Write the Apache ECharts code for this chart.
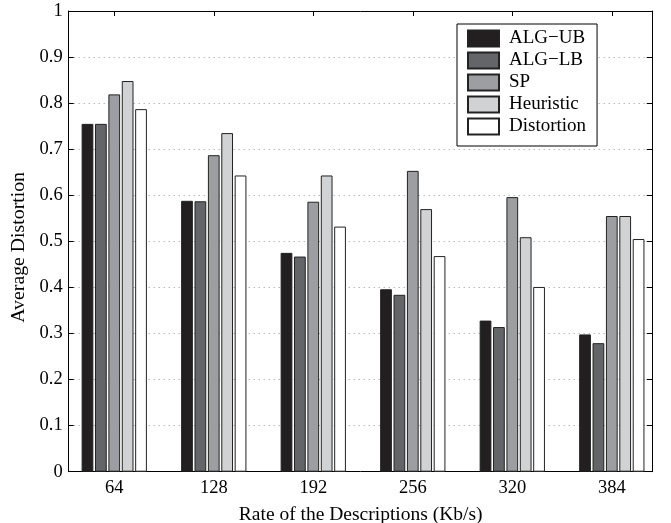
<!DOCTYPE html>
<html>
<head>
<meta charset="utf-8">
<script src="https://cdn.jsdelivr.net/npm/echarts@6/dist/echarts.min.js"></script>
<style>
html,body{margin:0;padding:0;background:#fff;}
#chart{width:671px;height:523px;}
</style>
</head>
<body>
<div id="chart"></div>
<script>
var rates = [64, 128, 192, 256, 320, 384];
var seriesNames = ['ALG\u2212UB', 'ALG\u2212LB', 'SP', 'Heuristic', 'Distortion'];
var algUB = [0.755, 0.588, 0.475, 0.396, 0.328, 0.298];
var algLB = [0.755, 0.587, 0.467, 0.384, 0.314, 0.279];
var sp = [0.819, 0.687, 0.586, 0.653, 0.596, 0.555];
var heuristic = [0.848, 0.735, 0.643, 0.570, 0.509, 0.555];
var distortion = [0.787, 0.643, 0.532, 0.468, 0.401, 0.505];
var yTicks = [0, 0.1, 0.2, 0.3, 0.4, 0.5, 0.6, 0.7, 0.8, 0.9, 1];

var values = [algUB, algLB, sp, heuristic, distortion];
var colors = ['#231f20', '#646569', '#9d9ea2', '#d1d2d4', '#ffffff'];
var font = 'Liberation Serif';

var chart = echarts.init(document.getElementById('chart'));

var series = values.map(function (vals, i) {
  return {
    name: seriesNames[i],
    type: 'bar',
    xAxisIndex: 0,
    yAxisIndex: 0,
    barWidth: '11.8%',
    barGap: '14%',
    itemStyle: { color: colors[i], borderColor: '#222', borderWidth: 1 },
    emphasis: { disabled: true },
    data: rates.map(function (r, j) { return [r, vals[j]]; })
  };
});

chart.setOption({
  animation: false,
  backgroundColor: '#fff',
  textStyle: { fontFamily: font, color: '#000' },
  grid: { left: 68.7, right: 18.3, top: 11, bottom: 51.3, containLabel: false, outerBoundsMode: 'none' },
  legend: {
    data: seriesNames,
    orient: 'vertical',
    left: 457,
    top: 24,
    padding: [5, 11, 10, 10],
    itemWidth: 31,
    itemHeight: 16,
    itemGap: 3,
    icon: 'rect',
    borderColor: '#000',
    borderWidth: 1,
    backgroundColor: '#fff',
    selectedMode: false,
    textStyle: { fontFamily: font, fontSize: 19, color: '#000', lineHeight: 18, padding: [0, 0, 0, 5] }
  },
  xAxis: [{
    type: 'value',
    min: 34.7,
    max: 410.3,
    position: 'bottom',
    name: 'Rate of the Descriptions (Kb/s)',
    nameLocation: 'middle',
    nameGap: 33,
    nameTextStyle: { fontFamily: font, fontSize: 19.5, color: '#000' },
    axisLine: { show: true, onZero: false, lineStyle: { color: '#000', width: 1 } },
    axisTick: { show: true, inside: true, length: 5, customValues: rates, lineStyle: { color: '#000' } },
    axisLabel: { show: true, customValues: rates, fontFamily: font, fontSize: 18.5, color: '#000', margin: 7 },
    splitLine: { show: false }
  }, {
    type: 'value',
    min: 34.7,
    max: 410.3,
    position: 'top',
    axisLine: { show: true, onZero: false, lineStyle: { color: '#000', width: 1 } },
    axisTick: { show: true, inside: true, length: 5, customValues: rates, lineStyle: { color: '#000' } },
    axisLabel: { show: false },
    splitLine: { show: false }
  }],
  yAxis: [{
    type: 'value',
    min: 0,
    max: 1,
    interval: 0.1,
    position: 'left',
    name: 'Average Distortion',
    nameLocation: 'middle',
    nameGap: 35,
    nameTextStyle: { fontFamily: font, fontSize: 19.8, color: '#000', padding: [0, 12, 0, 0] },
    axisLine: { show: true, onZero: false, lineStyle: { color: '#000', width: 1 } },
    axisTick: { show: true, inside: true, length: 5, lineStyle: { color: '#000' } },
    axisLabel: {
      fontFamily: font, fontSize: 18.5, color: '#000', margin: 6,
      customValues: yTicks
    },
    splitLine: { show: true, lineStyle: { color: '#999', width: 1, type: [1, 4] } }
  }, {
    type: 'value',
    min: 0,
    max: 1,
    interval: 0.1,
    position: 'right',
    axisLine: { show: true, onZero: false, lineStyle: { color: '#000', width: 1 } },
    axisTick: { show: true, inside: true, length: 6, lineStyle: { color: '#000' } },
    axisLabel: { show: false },
    splitLine: { show: false }
  }],
  series: series
});
</script>
</body>
</html>
